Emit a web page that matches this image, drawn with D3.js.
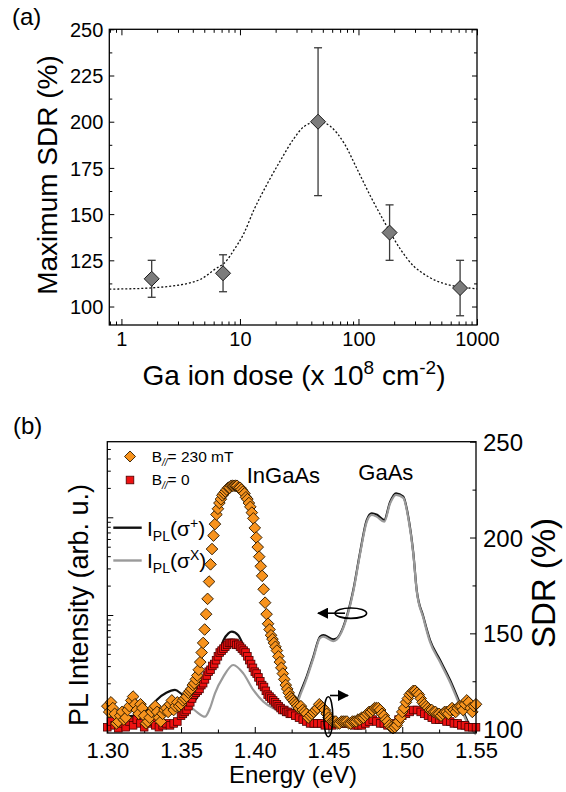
<!DOCTYPE html>
<html>
<head>
<meta charset="utf-8">
<script src="https://cdn.jsdelivr.net/npm/d3@7"></script>
<style>
body { margin: 0; background: #fff; }
svg text { font-family: "Liberation Sans", Arial, sans-serif; }
</style>
</head>
<body>
<script>
var width = 566;
var height = 792;

// ---- panel (a): max SDR vs Ga ion dose ----
var doses = [1.8, 7.2, 45.6, 183, 720];
var maxSdr = [115, 118, 200, 140, 110];
var sdrErrLow = [105, 108, 160, 125, 95];
var sdrErrHigh = [125, 128, 240, 155, 125];
// dotted guide (dose, SDR)
var fitCurve = [[0.79,109.4],[1,109.5],[1.5,109.8],[2,110.3],[3,111.5],[4,113.2],[4.65,114.7],
  [6,119.7],[7.8,125.2],[8.9,130.6],[10.8,139.6],[13.1,152.2],[17.1,166.7],[22.1,179.3],
  [28.6,191],[34.6,197.3],[45.6,200.2],[58.4,197.3],[75.7,188.3],[98.2,173.9],[127,159.4],
  [165,145.9],[228,130.6],[296,121.5],[335,118.8],[450,114],[600,111.5],[800,110.2],[1000,109.6]];
var doseTicks = [1, 10, 100, 1000];
var sdrTicksA = [100, 125, 150, 175, 200, 225, 250];
var sdrMinorA = [112.5, 137.5, 162.5, 187.5, 212.5, 237.5];

// ---- panel (b): PL spectra and SDR vs energy ----
var plSigmaPlus = [[1.300,0.85],[1.310,0.9],[1.320,0.95],[1.330,1.15],[1.3335,1.35],[1.340,1.6],
  [1.3459,1.71],[1.3505,1.55],[1.3549,1.4],[1.3583,1.3],[1.3617,1.5],[1.3651,1.8],[1.3696,2.4],
  [1.3753,3.9],[1.3787,5.5],[1.3821,6.5],[1.3844,6.75],[1.3888,6.2],[1.3945,3.9],[1.4013,2.2],
  [1.4081,1.5],[1.4149,1.15],[1.4239,1.0],[1.4273,1.15],[1.4307,1.58],[1.4352,2.34],[1.4397,3.74],
  [1.4442,6.0],[1.4465,6.24],[1.4532,5.64],[1.4555,5.77],[1.4623,9.6],[1.4668,18],[1.4713,42.9],
  [1.4759,93.8],[1.4793,110],[1.4829,106],[1.4878,93.8],[1.4917,143],[1.4958,176],[1.5007,163],
  [1.5041,101],[1.5075,42.9],[1.5098,18],[1.5143,9.6],[1.5188,5.55],[1.5256,3.46],[1.5324,2.16],
  [1.5391,1.25],[1.5448,0.79],[1.550,0.62]];
var plSigmaX = [[1.300,0.8],[1.315,0.85],[1.330,0.95],[1.340,1.1],[1.350,1.2],[1.3561,1.15],
  [1.3606,1.02],[1.3662,0.91],[1.3696,1.11],[1.3730,1.58],[1.3787,2.34],[1.3854,3.08],[1.3922,2.53],
  [1.3990,1.71],[1.4058,1.30],[1.4126,1.11],[1.4216,1.02],[1.4260,1.0],[1.4307,1.5],[1.4352,2.25],
  [1.4397,3.6],[1.4442,5.8],[1.4465,6.0],[1.4532,5.4],[1.4555,5.6],[1.4623,9.3],[1.4668,17.4],
  [1.4713,41.5],[1.4759,90],[1.4793,106],[1.4829,101],[1.4878,90],[1.4917,138],[1.4958,170],
  [1.5007,158],[1.5041,98],[1.5075,42],[1.5098,17.6],[1.5143,9.3],[1.5188,5.3],[1.5256,3.3],
  [1.5324,2.05],[1.5391,1.18],[1.5448,0.75],[1.550,0.6]];

// SDR (%) with B// = 230 mT
var sdrB230 = [[1.300,112],[1.30125,109],[1.3025,114],[1.30375,111],[1.305,108],[1.30625,103],
  [1.3075,104],[1.30875,107],[1.310,109],[1.31125,105],[1.3125,106],[1.31375,110],[1.315,112],
  [1.31625,115],[1.3175,117],[1.31875,113],[1.320,110],[1.32125,108],[1.3225,113],[1.32375,111],
  [1.325,107],[1.32625,103],[1.3275,104],[1.32875,106],[1.330,109],[1.33125,111],[1.3325,112],
  [1.33375,109],[1.335,106],[1.33625,104],[1.3375,108],[1.33875,110],[1.340,111],[1.34125,109],
  [1.3425,113],[1.34375,115],[1.345,110],[1.34625,112],[1.3475,114],[1.34875,112],[1.350,113],
  [1.35125,115],[1.3525,116],[1.35375,117],
  [1.355,119],[1.356,120],[1.357,121],[1.358,123],[1.359,124],[1.360,126],[1.361,128],[1.362,131],
  [1.363,135],[1.364,140],[1.365,145],[1.366,152],[1.367,160],[1.368,168],[1.369,177],[1.370,186],
  [1.371,194],[1.372,201],[1.373,207],[1.374,212],[1.375,215],[1.376,218],[1.377,220],[1.378,222],
  [1.379,223],[1.380,224],[1.381,225],[1.382,226],[1.383,226],[1.384,227],[1.385,227],[1.386,227],
  [1.387,227],[1.388,227],[1.389,226],[1.390,226],[1.391,225],[1.392,224],[1.393,223],[1.394,221],
  [1.395,220],[1.396,218],[1.397,216],[1.398,213],[1.399,210],[1.400,205],[1.401,200],[1.402,195],
  [1.403,190],[1.404,185],[1.405,180],[1.406,173],[1.407,166],[1.408,160],[1.409,155],[1.410,152],
  [1.411,149],[1.412,147],[1.413,145],[1.414,143],[1.415,141],[1.416,138],[1.417,135],[1.418,132],
  [1.419,129],[1.420,126],[1.421,123],[1.422,121],[1.423,119],[1.424,117],[1.425,116],[1.426,115],
  [1.427,114],[1.428,113],[1.429,112],
  [1.430,111],[1.43125,112],[1.4325,110],[1.43375,109],[1.435,108],[1.43625,106],[1.4375,107],
  [1.43875,108],[1.440,109],[1.44125,110],[1.4425,111],[1.44375,113],[1.445,112],[1.44625,111],
  [1.4475,110],[1.44875,108],[1.450,106],[1.45125,105],[1.4525,104],[1.45375,104],[1.455,104],
  [1.45625,103],[1.4575,103],[1.45875,104],[1.460,104],[1.46125,104],[1.4625,104],[1.46375,103],
  [1.465,103],[1.46625,104],[1.4675,104],[1.46875,104],[1.470,105],[1.47125,105],[1.4725,106],
  [1.47375,106],[1.475,107],[1.47625,108],[1.4775,109],[1.47875,109],[1.480,110],[1.48125,111],
  [1.4825,111],[1.48375,111],[1.485,110],[1.48625,108],[1.4875,107],[1.48875,105],[1.490,104],
  [1.49125,102],[1.4925,101],[1.49375,100.5],[1.495,101],[1.49625,102],[1.4975,104],[1.49875,106],
  [1.500,109],[1.50125,111],[1.5025,114],[1.50375,116],[1.505,118],[1.50625,119],[1.5075,120],
  [1.50875,120],[1.510,119],[1.51125,118],[1.5125,116],[1.51375,114],[1.515,113],[1.51625,112],
  [1.5175,111],[1.51875,110],[1.520,110],[1.52125,109],[1.5225,109],[1.52375,108],[1.525,108],
  [1.52625,107],[1.5275,108],[1.52875,109],[1.530,109],[1.53125,108],[1.5325,110],[1.53375,111],
  [1.535,110],[1.53625,109],[1.5375,111],[1.53875,112],[1.540,112],[1.54125,110],[1.5425,113],
  [1.54375,115],[1.545,114],[1.54625,111],[1.5475,109],[1.54875,112],[1.550,113]];
// SDR (%) with B// = 0
var sdrB0 = [[1.300,101],[1.3025,104],[1.305,102],[1.3075,100.5],[1.310,103],[1.3125,101],[1.315,104],
  [1.3175,102],[1.320,105],[1.3225,103],[1.325,101],[1.3275,103],[1.330,104],[1.3325,102],[1.335,101],
  [1.3375,102],[1.340,103],[1.3425,102],[1.345,103],[1.3475,104],
  [1.350,107],[1.35125,108],[1.3525,109],[1.35375,110],[1.355,112],[1.35625,114],[1.3575,116],
  [1.35875,118],[1.360,119],[1.36125,120],[1.3625,121],[1.36375,123],[1.365,124],[1.36625,126],
  [1.3675,128],[1.36875,130],[1.370,131],[1.37125,133],[1.3725,134],[1.37375,136],[1.375,138],
  [1.37625,140],[1.3775,141],[1.37875,142],[1.380,143],[1.38125,144],[1.3825,145],[1.38375,145],
  [1.385,145],[1.38625,145],[1.3875,144],[1.38875,144],[1.390,143],[1.39125,142],[1.3925,141],
  [1.39375,140],[1.395,138],[1.39625,136],[1.3975,134],[1.39875,132],[1.400,130],[1.40125,129],
  [1.4025,127],[1.40375,125],[1.405,123],[1.40625,122],[1.4075,120],[1.40875,118],[1.410,117],
  [1.41125,116],[1.4125,115],[1.41375,114],[1.415,113],[1.41625,112],[1.4175,111],[1.41875,110],
  [1.420,110],[1.42125,109],[1.4225,109],[1.42375,108],[1.425,108],[1.4275,107],
  [1.430,106],[1.4325,105],[1.435,104],
  [1.4375,103],[1.440,103],[1.4425,103],[1.445,103],[1.4475,102],[1.450,102],[1.4525,102],[1.455,103],
  [1.4575,103],[1.460,103],[1.4625,103],[1.465,103],[1.4675,102],[1.470,102],[1.4725,102],[1.475,103],
  [1.4775,104],[1.480,105],[1.4825,104],[1.485,103],[1.4875,103],[1.490,102],[1.4925,102],[1.495,103],
  [1.4975,105],[1.500,107],[1.5025,108],[1.505,109],[1.5075,110],[1.510,110],[1.5125,109],[1.515,108],
  [1.5175,107],[1.520,106],[1.5225,105],[1.525,105],[1.5275,105],[1.530,104],[1.5325,104],[1.535,103],
  [1.5375,103],[1.540,102],[1.5425,102],[1.545,101],[1.5475,101],[1.550,101]];
var energyTicks = [1.30, 1.35, 1.40, 1.45, 1.50, 1.55];
var energyMinor = [1.325, 1.375, 1.425, 1.475, 1.525];
var sdrTicksB = [100, 150, 200, 250];
var sdrMinorB = [125, 175, 225];
var plMajor = [1, 10, 100];

var svg = d3.select("body")
            .append("svg")
            .attr("width", width)
            .attr("height", height);

function isDecade(v) {
  return Math.abs(Math.log10(v) - Math.round(Math.log10(v))) < 1e-6;
}
function diamond(r) {
  return "M0," + (-r) + "L" + r + ",0L0," + r + "L" + (-r) + ",0Z";
}
function styleAxis(g, size) {
  g.select(".domain").remove();
  g.attr("font-family", null).attr("font-size", size);
  g.selectAll("line").attr("stroke", "#000");
  g.selectAll("text").attr("fill", "#000");
}

// ================= panel (a) =================
var xA = d3.scaleLog().domain([0.79, 1000]).range([109.3, 477]);
var yA = d3.scaleLinear().domain([90, 250]).range([325, 29.3]);
var doseMinor = xA.ticks().filter(function(v) { return !isDecade(v); });

var gA = svg.append("g");

gA.append("g")
  .attr("transform", "translate(0,325)")
  .call(d3.axisBottom(xA).tickValues(doseTicks).tickSize(-6).tickFormat(d3.format("d")))
  .call(styleAxis, 20)
  .selectAll("text").attr("y", 21).attr("dy", 0);
gA.append("g")
  .attr("transform", "translate(0,325)")
  .call(d3.axisBottom(xA).tickValues(doseMinor).tickSize(-3.5).tickFormat(""))
  .call(styleAxis, 20);
gA.append("g")
  .attr("transform", "translate(0,29.3)")
  .call(d3.axisTop(xA).tickValues(doseTicks).tickSize(-6).tickFormat(""))
  .call(styleAxis, 20);
gA.append("g")
  .attr("transform", "translate(0,29.3)")
  .call(d3.axisTop(xA).tickValues(doseMinor).tickSize(-3.5).tickFormat(""))
  .call(styleAxis, 20);
gA.append("g")
  .attr("transform", "translate(109.3,0)")
  .call(d3.axisLeft(yA).tickValues(sdrTicksA).tickSize(-5).tickPadding(6))
  .call(styleAxis, 20)
  .selectAll("text").attr("dy", "0.36em");
gA.append("g")
  .attr("transform", "translate(109.3,0)")
  .call(d3.axisLeft(yA).tickValues(sdrMinorA).tickSize(-3).tickFormat(""))
  .call(styleAxis, 20);
gA.append("g")
  .attr("transform", "translate(477,0)")
  .call(d3.axisRight(yA).tickValues(sdrTicksA).tickSize(-5).tickFormat(""))
  .call(styleAxis, 20);
gA.append("g")
  .attr("transform", "translate(477,0)")
  .call(d3.axisRight(yA).tickValues(sdrMinorA).tickSize(-3).tickFormat(""))
  .call(styleAxis, 20);

gA.append("rect")
  .attr("x", 109.3)
  .attr("y", 29.3)
  .attr("width", 477 - 109.3)
  .attr("height", 325 - 29.3)
  .attr("fill", "none")
  .attr("stroke", "#000")
  .attr("stroke-width", 1.3);

// dotted guide
gA.append("path")
  .datum(fitCurve)
  .attr("fill", "none")
  .attr("stroke", "#111")
  .attr("stroke-width", 1.3)
  .attr("stroke-dasharray", "2,2")
  .attr("d", d3.line()
    .x(function(d) { return xA(d[0]); })
    .y(function(d) { return yA(d[1]); })
    .curve(d3.curveMonotoneX));

// error bars
var errA = gA.selectAll(".err")
  .data(doses)
  .enter().append("g")
  .attr("stroke", "#3a3a3a")
  .attr("stroke-width", 1.3);
errA.append("line")
  .attr("x1", function(d) { return xA(d); })
  .attr("x2", function(d) { return xA(d); })
  .attr("y1", function(d, i) { return yA(sdrErrLow[i]); })
  .attr("y2", function(d, i) { return yA(sdrErrHigh[i]); });
errA.append("line")
  .attr("x1", function(d) { return xA(d) - 4; })
  .attr("x2", function(d) { return xA(d) + 4; })
  .attr("y1", function(d, i) { return yA(sdrErrLow[i]); })
  .attr("y2", function(d, i) { return yA(sdrErrLow[i]); });
errA.append("line")
  .attr("x1", function(d) { return xA(d) - 4; })
  .attr("x2", function(d) { return xA(d) + 4; })
  .attr("y1", function(d, i) { return yA(sdrErrHigh[i]); })
  .attr("y2", function(d, i) { return yA(sdrErrHigh[i]); });

gA.selectAll(".pt")
  .data(doses)
  .enter().append("path")
  .attr("transform", function(d, i) { return "translate(" + xA(d) + "," + yA(maxSdr[i]) + ")"; })
  .attr("d", diamond(7.5))
  .attr("fill", "#7c7c7c")
  .attr("stroke", "#1a1a1a")
  .attr("stroke-width", 1);

svg.append("text")
  .attr("x", 12)
  .attr("y", 25)
  .attr("font-size", 24)
  .text("(a)");

svg.append("text")
  .attr("transform", "translate(57,175) rotate(-90)")
  .attr("text-anchor", "middle")
  .attr("font-size", 28)
  .text("Maximum SDR (%)");

var xLabA = svg.append("text")
  .attr("x", 294)
  .attr("y", 385)
  .attr("text-anchor", "middle")
  .attr("font-size", 28);
xLabA.append("tspan").text("Ga ion dose (x 10");
xLabA.append("tspan").attr("font-size", 19).attr("dy", -11).text("8");
xLabA.append("tspan").attr("dy", 11).text(" cm");
xLabA.append("tspan").attr("font-size", 19).attr("dy", -11).text("-2");
xLabA.append("tspan").attr("dy", 11).text(")");

// ================= panel (b) =================
var xB = d3.scaleLinear().domain([1.30, 1.55]).range([107.3, 476]);
var yPL = d3.scaleLog().domain([0.62, 594]).range([733, 441.7]);
var ySDR = d3.scaleLinear().domain([98, 250]).range([733, 441.7]);
var plMinor = yPL.ticks().filter(function(v) { return !isDecade(v); });

var gB = svg.append("g");

gB.append("g")
  .attr("transform", "translate(0,733)")
  .call(d3.axisBottom(xB).tickValues(energyTicks).tickSize(-6).tickFormat(d3.format(".2f")))
  .call(styleAxis, 22)
  .selectAll("text").attr("y", 25).attr("dy", 0);
gB.append("g")
  .attr("transform", "translate(0,733)")
  .call(d3.axisBottom(xB).tickValues(energyMinor).tickSize(-3.5).tickFormat(""))
  .call(styleAxis, 22);
gB.append("g")
  .attr("transform", "translate(107.3,0)")
  .call(d3.axisLeft(yPL).tickValues(plMajor).tickSize(-6).tickFormat(""))
  .call(styleAxis, 22);
gB.append("g")
  .attr("transform", "translate(107.3,0)")
  .call(d3.axisLeft(yPL).tickValues(plMinor).tickSize(-3.5).tickFormat(""))
  .call(styleAxis, 22);
gB.append("g")
  .attr("transform", "translate(476,0)")
  .call(d3.axisRight(ySDR).tickValues(sdrTicksB).tickSize(-6).tickPadding(7))
  .call(styleAxis, 24)
  .selectAll("text").attr("dy", "0.36em");
gB.append("g")
  .attr("transform", "translate(476,0)")
  .call(d3.axisRight(ySDR).tickValues(sdrMinorB).tickSize(-3.5).tickFormat(""))
  .call(styleAxis, 24);

// PL lines (left log axis)
var plLine = d3.line()
  .x(function(d) { return xB(d[0]); })
  .y(function(d) { return yPL(d[1]); })
  .curve(d3.curveMonotoneX);
gB.append("path")
  .datum(plSigmaPlus)
  .attr("fill", "none")
  .attr("stroke", "#111")
  .attr("stroke-width", 2.2)
  .attr("d", plLine);
gB.append("path")
  .datum(plSigmaX)
  .attr("fill", "none")
  .attr("stroke", "#9a9a9a")
  .attr("stroke-width", 2.2)
  .attr("d", plLine);

// SDR markers (right axis)
gB.selectAll(".sq")
  .data(sdrB0)
  .enter().append("rect")
  .attr("x", function(d) { return xB(d[0]) - 3.8; })
  .attr("y", function(d) { return ySDR(d[1]) - 3.8; })
  .attr("width", 7.6)
  .attr("height", 7.6)
  .attr("fill", "#ee1111")
  .attr("stroke", "#4a0000")
  .attr("stroke-width", 0.8);
gB.selectAll(".dm")
  .data(sdrB230)
  .enter().append("path")
  .attr("transform", function(d) { return "translate(" + xB(d[0]) + "," + ySDR(d[1]) + ")"; })
  .attr("d", diamond(5.8))
  .attr("fill", "#f7931e")
  .attr("stroke", "#2e1a00")
  .attr("stroke-width", 0.95);

gB.append("rect")
  .attr("x", 107.3)
  .attr("y", 441.7)
  .attr("width", 476 - 107.3)
  .attr("height", 733 - 441.7)
  .attr("fill", "none")
  .attr("stroke", "#000")
  .attr("stroke-width", 1.3);

// arrows showing which axis
svg.append("defs").append("marker")
  .attr("id", "head")
  .attr("viewBox", "0 0 10 10")
  .attr("refX", 9)
  .attr("refY", 5)
  .attr("markerWidth", 7)
  .attr("markerHeight", 7)
  .attr("orient", "auto")
  .append("path")
  .attr("d", "M0,0L10,5L0,10Z")
  .attr("fill", "#000");

gB.append("ellipse")
  .attr("cx", 350.8).attr("cy", 613.2).attr("rx", 15.8).attr("ry", 5.2)
  .attr("fill", "none").attr("stroke", "#000").attr("stroke-width", 1.6);
gB.append("line")
  .attr("x1", 345).attr("y1", 613.2).attr("x2", 318).attr("y2", 613.2)
  .attr("stroke", "#000").attr("stroke-width", 1.6)
  .attr("marker-end", "url(#head)");
gB.append("ellipse")
  .attr("cx", 328.3).attr("cy", 716.7).attr("rx", 4.5).attr("ry", 20)
  .attr("fill", "none").attr("stroke", "#000").attr("stroke-width", 1.6);
gB.append("line")
  .attr("x1", 330).attr("y1", 695.5).attr("x2", 348).attr("y2", 695.5)
  .attr("stroke", "#000").attr("stroke-width", 1.6)
  .attr("marker-end", "url(#head)");

// peak labels
gB.append("text").attr("x", 246.7).attr("y", 483).attr("font-size", 22).text("InGaAs");
gB.append("text").attr("x", 358.3).attr("y", 480).attr("font-size", 22).text("GaAs");

// legend
gB.append("path")
  .attr("transform", "translate(130,456.5)")
  .attr("d", diamond(5.5))
  .attr("fill", "#f7931e")
  .attr("stroke", "#2e1a00")
  .attr("stroke-width", 0.9);
gB.append("rect")
  .attr("x", 126.2).attr("y", 476.2).attr("width", 7.6).attr("height", 7.6)
  .attr("fill", "#ee1111").attr("stroke", "#4a0000").attr("stroke-width", 0.8);

var legB1 = gB.append("text").attr("x", 151.7).attr("y", 461.5).attr("font-size", 15.5);
legB1.append("tspan").text("B");
legB1.append("tspan").attr("font-size", 10).attr("font-style", "italic").attr("dy", 4).text("//");
legB1.append("tspan").attr("dy", -4).text("= 230 mT");
var legB2 = gB.append("text").attr("x", 151.7).attr("y", 485).attr("font-size", 15.5);
legB2.append("tspan").text("B");
legB2.append("tspan").attr("font-size", 10).attr("font-style", "italic").attr("dy", 4).text("//");
legB2.append("tspan").attr("dy", -4).text("= 0");

gB.append("line")
  .attr("x1", 113.3).attr("x2", 141.7).attr("y1", 527.7).attr("y2", 527.7)
  .attr("stroke", "#111").attr("stroke-width", 2.4);
gB.append("line")
  .attr("x1", 113.3).attr("x2", 141.7).attr("y1", 560.5).attr("y2", 560.5)
  .attr("stroke", "#9a9a9a").attr("stroke-width", 2.4);

var legL1 = gB.append("text").attr("x", 147).attr("y", 535.5).attr("font-size", 21);
legL1.append("tspan").text("I");
legL1.append("tspan").attr("font-size", 14).attr("dy", 5).text("PL");
legL1.append("tspan").attr("dy", -5).text("(\u03c3");
legL1.append("tspan").attr("font-size", 14).attr("dy", -8).text("+");
legL1.append("tspan").attr("dy", 8).text(")");
var legL2 = gB.append("text").attr("x", 147).attr("y", 568).attr("font-size", 21);
legL2.append("tspan").text("I");
legL2.append("tspan").attr("font-size", 14).attr("dy", 5).text("PL");
legL2.append("tspan").attr("dy", -5).text("(\u03c3");
legL2.append("tspan").attr("font-size", 14).attr("dy", -8).text("X");
legL2.append("tspan").attr("dy", 8).text(")");

svg.append("text")
  .attr("x", 13)
  .attr("y", 434)
  .attr("font-size", 24)
  .text("(b)");

svg.append("text")
  .attr("transform", "translate(88,605) rotate(-90)")
  .attr("text-anchor", "middle")
  .attr("font-size", 27)
  .text("PL Intensity (arb. u.)");

svg.append("text")
  .attr("transform", "translate(555,583) rotate(-90)")
  .attr("text-anchor", "middle")
  .attr("font-size", 33)
  .text("SDR (%)");

svg.append("text")
  .attr("x", 293)
  .attr("y", 783)
  .attr("text-anchor", "middle")
  .attr("font-size", 24)
  .text("Energy (eV)");
</script>
</body>
</html>
